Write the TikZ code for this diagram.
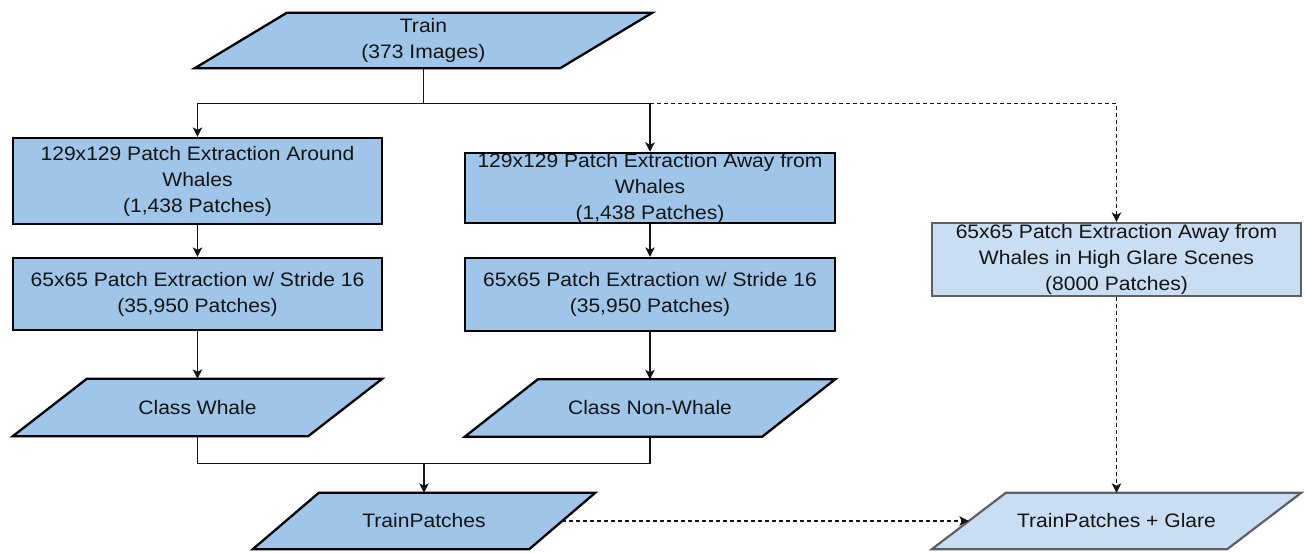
\documentclass[tikz,border=0pt]{standalone}
\usepackage{fontspec}
\setmainfont{Liberation Sans}[FakeStretch=1.08]
\usetikzlibrary{arrows.meta,calc,backgrounds}

\definecolor{boxblue}{HTML}{9FC5E8}
\definecolor{paleblue}{HTML}{C9DEF2}
\definecolor{edgegray}{HTML}{5F5F5F}
\definecolor{inkblack}{HTML}{141414}

\tikzset{
  labeltext/.style={font=\fontsize{19.5}{26}\selectfont, text=inkblack, align=center, inner sep=0pt},
  procbox/.style={labeltext, draw=black, line width=2.3pt, fill=boxblue},
  glarebox/.style={labeltext, draw=edgegray, line width=2.2pt, fill=paleblue},
  dataslot/.style={labeltext},
  datashape/.style={draw=black, line width=2.3pt, fill=boxblue},
  glareshape/.style={draw=edgegray, line width=2.2pt, fill=paleblue},
  flow/.style={line width=1.2pt, draw=inkblack},
  flowarrow/.style={flow, -{Stealth[length=9.5pt,width=9.5pt,inset=2.5pt]}},
  dashedflow/.style={flowarrow, dash pattern=on 4pt off 3pt},
}

% slanted data box drawn behind a named node: #1 style, #2 node, #3 skew
\newcommand\slantbox[3]{%
  \begin{scope}[on background layer]
    \path[#1] ($(#2.north west)+(#3/2,0)$) -- ($(#2.north east)+(#3/2,0)$)
      -- ($(#2.south east)-(#3/2,0)$) -- ($(#2.south west)-(#3/2,0)$) -- cycle;
  \end{scope}}

\begin{document}
\begin{tikzpicture}[x=1pt,y=-1pt]
\useasboundingbox (0,0) rectangle (1306,553);

% data inputs / outputs
\node[dataslot, minimum width=365pt, minimum height=55pt] (train) at (423.5,40.5) {Train\\(373 Images)};
\slantbox{datashape}{train}{92}

% left branch
\node[procbox, minimum width=369pt, minimum height=86pt] (r1) at (197.5,181) {129x129 Patch Extraction Around\\Whales\\(1,438 Patches)};
\node[procbox, minimum width=369pt, minimum height=72pt] (r2) at (197.5,294) {65x65 Patch Extraction w/ Stride 16\\(35,950 Patches)};
\node[dataslot, minimum width=295pt, minimum height=57pt] (cw) at (197.5,407.5) {Class Whale};
\slantbox{datashape}{cw}{74}

% middle branch
\node[procbox, minimum width=370pt, minimum height=70pt] (m1) at (650,188) {129x129 Patch Extraction Away from\\Whales\\(1,438 Patches)};
\node[procbox, minimum width=370pt, minimum height=73pt] (m2) at (650,294.5) {65x65 Patch Extraction w/ Stride 16\\(35,950 Patches)};
\node[dataslot, minimum width=297pt, minimum height=57pt] (cn) at (650,408) {Class Non-Whale};
\slantbox{datashape}{cn}{73}

% merged patches
\node[dataslot, minimum width=276pt, minimum height=56pt] (tp) at (424,521) {TrainPatches};
\slantbox{datashape}{tp}{66}

% glare branch
\node[glarebox, minimum width=369pt, minimum height=73pt] (g1) at (1116.5,259.5) {65x65 Patch Extraction Away from\\Whales in High Glare Scenes\\(8000 Patches)};
\node[dataslot, minimum width=295pt, minimum height=56pt] (go) at (1116.5,521) {TrainPatches + Glare};
\slantbox{glareshape}{go}{74}

% connectors
\coordinate (split) at ($(train.south)+(0,35)$);
\coordinate (merge) at ($(tp.north)+(0,-29)$);

\draw[flow] (train.south) -- (split);
\draw[flowarrow] (split) -| (r1.north);
\draw[flowarrow] (split) -| (m1.north);
\draw[dashedflow] (m1.north |- split) -| (g1.north);

\draw[flowarrow] (r1) -- (r2);
\draw[flowarrow] (r2) -- (cw);
\draw[flowarrow] (m1) -- (m2);
\draw[flowarrow] (m2) -- (cn);

\draw[flow] (cw.south) |- (merge) -| (cn.south);
\draw[flowarrow] (merge) -- (tp.north);

\draw[dashedflow] (tp.east) -- (go.west);
\draw[dashedflow] (g1.south) -- (go.north);
\end{tikzpicture}
\end{document}
